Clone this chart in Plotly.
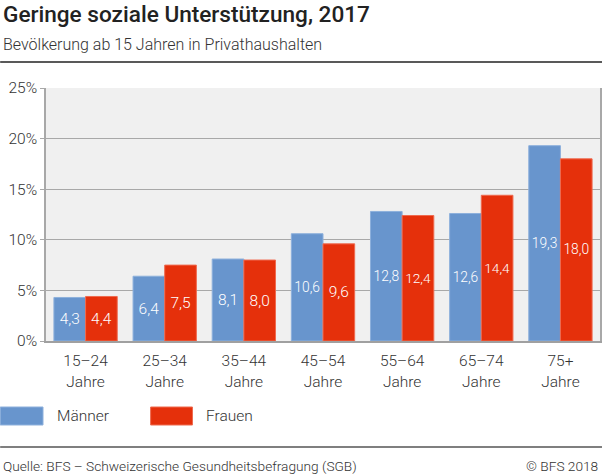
import plotly.graph_objects as go

categories = ["15–24<br>Jahre", "25–34<br>Jahre", "35–44<br>Jahre", "45–54<br>Jahre",
              "55–64<br>Jahre", "65–74<br>Jahre", "75+<br>Jahre"]
maenner = [4.3, 6.4, 8.1, 10.6, 12.8, 12.6, 19.3]
frauen = [4.4, 7.5, 8.0, 9.6, 12.4, 14.4, 18.0]
y_ticks = [0, 5, 10, 15, 20, 25]
y_ticklabels = ["0%", "5%", "10%", "15%", "20%", "25%"]

BLUE = "#6895cd"
RED = "#e5300b"
FONT = "Roboto"
TXT = "#333333"

def fmt(v):
    return f"{v:.1f}".replace(".", ",")

fig = go.Figure()
for name, vals, col, edge in [("Männer", maenner, BLUE, "#8db0dc"), ("Frauen", frauen, RED, "#ef6a4f")]:
    fig.add_trace(go.Bar(
        x=categories, y=vals, name=name,
        marker=dict(color=col, line=dict(color=edge, width=1)),
        text=[fmt(v) for v in vals], textposition="inside", insidetextanchor="middle",
        textfont=dict(family=FONT, size=15.5, color="white", weight=300),
        textangle=0, showlegend=False, hoverinfo="skip",
    ))

fig.update_layout(
    width=604, height=476,
    margin=dict(l=46, r=2, t=88, b=135),
    paper_bgcolor="white", plot_bgcolor="#f0f0f0",
    barmode="group", bargap=0.2, bargroupgap=0,
    font=dict(family=FONT, size=14, color=TXT, weight=300),
    xaxis=dict(showline=True, linecolor="#a0a0a0", linewidth=1.5, ticks="",
               ticklabelstandoff=5,
               tickfont=dict(family=FONT, size=15.5, color=TXT, weight=300), showgrid=False),
    yaxis=dict(range=[0, 25], tickvals=y_ticks, ticktext=y_ticklabels,
               showgrid=True, gridcolor="#a8a8a8", gridwidth=1,
               showline=True, mirror=True, linecolor="#a8a8a8", linewidth=1.5,
               ticks="outside", ticklen=4, tickcolor="#a8a8a8",
               tickfont=dict(family=FONT, size=15.5, color=TXT, weight=300), zeroline=False),
    shapes=[
        dict(type="line", xref="paper", yref="paper", x0=-46/556, x1=1+2/556,
             y0=1+26/253, y1=1+26/253, line=dict(color="#222222", width=1.5)),
        dict(type="line", xref="paper", yref="paper", x0=-46/556, x1=1+2/556,
             y0=-106/253, y1=-106/253, line=dict(color="#555555", width=1.5)),
        dict(type="rect", xref="paper", yref="paper", x0=-46/556, x1=-3/556,
             y0=-84/253, y1=-66/253, fillcolor=BLUE, line=dict(color="#8db0dc", width=1)),
        dict(type="rect", xref="paper", yref="paper", x0=105/556, x1=147/556,
             y0=-84/253, y1=-66/253, fillcolor=RED, line=dict(color="#ef6a4f", width=1)),
    ],
    annotations=[
        dict(text="Geringe soziale Unterstützung, 2017", xref="paper", yref="paper",
             x=-45/556, y=1+73/253, xanchor="left", yanchor="middle", showarrow=False,
             font=dict(family=FONT, size=22.6, color="#222222", weight=500)),
        dict(text="Bevölkerung ab 15 Jahren in Privathaushalten", xref="paper", yref="paper",
             x=-45/556, y=1+44/253, xanchor="left", yanchor="middle", showarrow=False,
             font=dict(family=FONT, size=16, color=TXT, weight=300)),
        dict(text="Männer", xref="paper", yref="paper", x=9/556, y=-75/253,
             xanchor="left", yanchor="middle", showarrow=False,
             font=dict(family=FONT, size=15.5, color=TXT, weight=300)),
        dict(text="Frauen", xref="paper", yref="paper", x=159/556, y=-75/253,
             xanchor="left", yanchor="middle", showarrow=False,
             font=dict(family=FONT, size=15.5, color=TXT, weight=300)),
        dict(text="Quelle: BFS – Schweizerische Gesundheitsbefragung (SGB)", xref="paper", yref="paper",
             x=-45/556, y=-125/253, xanchor="left", yanchor="middle", showarrow=False,
             font=dict(family=FONT, size=13.7, color=TXT, weight=300)),
        dict(text="© BFS 2018", xref="paper", yref="paper",
             x=1, y=-125/253, xanchor="right", yanchor="middle", showarrow=False,
             font=dict(family=FONT, size=13.7, color=TXT, weight=300)),
    ],
)

fig.write_html("out.html", config={"displayModeBar": False},
               post_script="document.body.style.margin='0';document.body.style.overflow='hidden';")
